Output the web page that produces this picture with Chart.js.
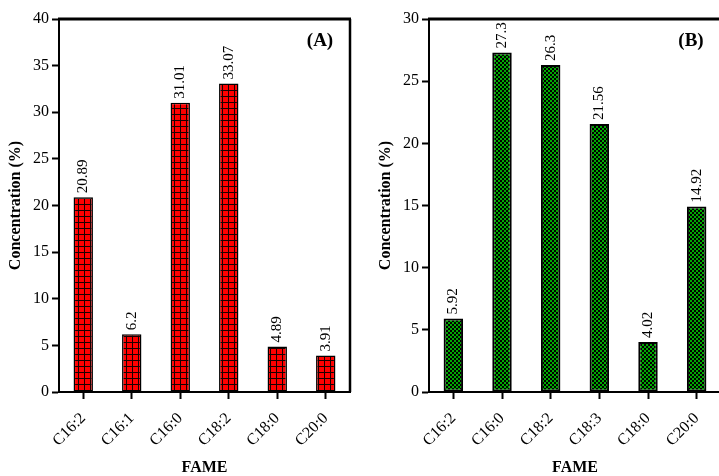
<!DOCTYPE html>
<html>
<head>
<meta charset="utf-8">
<script src="https://cdn.jsdelivr.net/npm/chart.js@4.4.1/dist/chart.umd.min.js"></script>
<style>
  html, body { margin: 0; padding: 0; background: #fff; overflow: hidden; }
  #wrap { position: relative; width: 719px; height: 476px; overflow: hidden; }
  canvas { position: absolute; top: 0; }
  #chartA { left: 0; }
  #chartB { left: 370px; }
</style>
</head>
<body>
<div id="wrap">
  <canvas id="chartA" width="360" height="476"></canvas>
  <canvas id="chartB" width="370" height="476"></canvas>
</div>
<script>
// panel A
const categoriesA = ['C16:2', 'C16:1', 'C16:0', 'C18:2', 'C18:0', 'C20:0'];
const valuesA = [20.89, 6.2, 31.01, 33.07, 4.89, 3.91];
const yMaxA = 40;

// panel B
const categoriesB = ['C16:2', 'C16:0', 'C18:2', 'C18:3', 'C18:0', 'C20:0'];
const valuesB = [5.92, 27.3, 26.3, 21.56, 4.02, 14.92];
const yMaxB = 30;

const yStep = 5;
const serif = 'Liberation Serif';

// red squares with black grid lines
function redGrid(ctx) {
    const c = document.createElement('canvas');
    c.width = 6; c.height = 6;
    const g = c.getContext('2d');
    g.fillStyle = '#ff0000';
    g.fillRect(0, 0, 6, 6);
    g.fillStyle = '#1a0000';
    g.fillRect(0, 0, 6, 1);
    g.fillRect(0, 0, 1, 6);
    return ctx.createPattern(c, 'repeat');
}

// green / black checker
function greenChecker(ctx) {
    const c = document.createElement('canvas');
    c.width = 4; c.height = 4;
    const g = c.getContext('2d');
    g.fillStyle = '#000';
    g.fillRect(0, 0, 4, 4);
    g.fillStyle = '#00a800';
    g.fillRect(0, 0, 2, 2);
    g.fillRect(2, 2, 2, 2);
    return ctx.createPattern(c, 'repeat');
}

const valueLabels = {
    id: 'valueLabels',
    afterDatasetsDraw(chart) {
        const ctx = chart.ctx;
        const meta = chart.getDatasetMeta(0);
        const data = chart.data.datasets[0].data;
        ctx.save();
        ctx.font = '15px "' + serif + '"';
        ctx.fillStyle = '#000';
        ctx.textAlign = 'left';
        ctx.textBaseline = 'middle';
        meta.data.forEach((bar, i) => {
            ctx.save();
            ctx.translate(bar.x, bar.y - 4);
            ctx.rotate(-Math.PI / 2);
            ctx.fillText(String(data[i]), 0, 0);
            ctx.restore();
        });
        ctx.restore();
    }
};

const frame = {
    id: 'frame',
    afterDraw(chart, args, opts) {
        const ctx = chart.ctx;
        const a = chart.chartArea;
        ctx.save();
        ctx.strokeStyle = '#000';
        ctx.lineWidth = 3;
        ctx.beginPath();
        ctx.moveTo(a.left - 1, a.top);
        ctx.lineTo(a.right + 1, a.top);
        ctx.stroke();
        ctx.lineWidth = 2.5;
        ctx.beginPath();
        ctx.moveTo(a.right, a.top);
        ctx.lineTo(a.right, a.bottom);
        ctx.stroke();
        ctx.font = 'bold 19px "' + serif + '"';
        ctx.fillStyle = '#000';
        ctx.textAlign = 'center';
        ctx.textBaseline = 'middle';
        ctx.fillText(opts.letter, a.right - 30, a.top + 22);
        ctx.restore();
    }
};

function makeChart(id, categories, values, yMax, letter, fill, borderWidth, rightPad) {
    const ctx = document.getElementById(id).getContext('2d');
    const axisGrid = {
        display: true,
        drawOnChartArea: false,
        offset: false,
        tickLength: 7,
        tickWidth: 2,
        tickColor: '#000'
    };
    return new Chart(ctx, {
        type: 'bar',
        data: {
            labels: categories,
            datasets: [{
                data: values,
                backgroundColor: fill(ctx),
                borderColor: '#000',
                borderWidth: borderWidth,
                borderSkipped: false,
                barPercentage: 0.8,
                categoryPercentage: 0.5
            }]
        },
        options: {
            responsive: false,
            animation: false,
            layout: { padding: { top: 19, right: rightPad, bottom: 0, left: 0 } },
            plugins: {
                legend: { display: false },
                tooltip: { enabled: false },
                frame: { letter: letter }
            },
            scales: {
                x: {
                    grid: axisGrid,
                    border: { color: '#000', width: 2 },
                    ticks: {
                        color: '#000',
                        font: { family: serif, size: 16 },
                        minRotation: 45,
                        maxRotation: 45,
                        padding: 10
                    },
                    title: {
                        display: true,
                        text: 'FAME',
                        color: '#000',
                        font: { family: serif, size: 16, weight: 'bold', lineHeight: 1 },
                        padding: { top: 0, bottom: 0 }
                    },
                    afterFit(s) { s.height = 84; }
                },
                y: {
                    min: 0,
                    max: yMax,
                    grid: axisGrid,
                    border: { color: '#000', width: 2 },
                    ticks: {
                        stepSize: yStep,
                        color: '#000',
                        font: { family: serif, size: 16 },
                        padding: 3
                    },
                    title: {
                        display: true,
                        text: 'Concentration (%)',
                        color: '#000',
                        font: { family: serif, size: 16, weight: 'bold', lineHeight: 1 },
                        padding: { top: 8, bottom: 0 }
                    },
                    afterFit(s) { s.width = 59; }
                }
            }
        },
        plugins: [valueLabels, frame]
    });
}

makeChart('chartA', categoriesA, valuesA, yMaxA, '(A)', redGrid, 1.5, 10);
makeChart('chartB', categoriesB, valuesB, yMaxB, '(B)', greenChecker, 2, 19);
</script>
</body>
</html>
